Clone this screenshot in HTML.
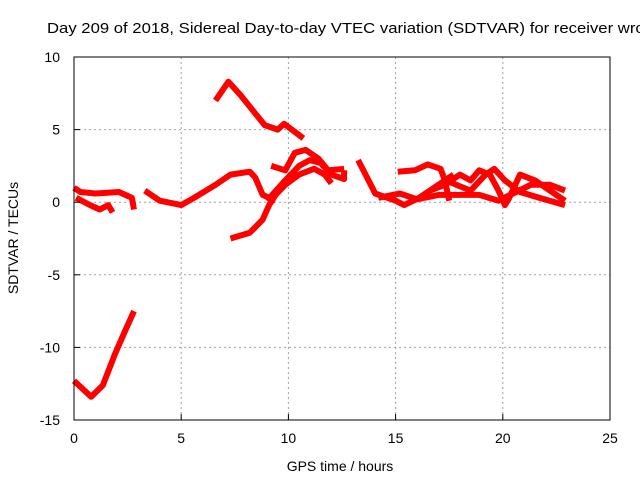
<!DOCTYPE html>
<html><head><meta charset="utf-8"><style>
body{margin:0;background:#fff;}
svg{display:block;font-family:"Liberation Sans",sans-serif;}
</style></head><body>
<svg id="chart" width="640" height="480">
<text x="47" y="33" font-size="15" textLength="606" lengthAdjust="spacingAndGlyphs">Day 209 of 2018, Sidereal Day-to-day VTEC variation (SDTVAR) for receiver wroc</text>
<g id="grid"></g>
<g id="marks"></g>
<rect x="74" y="57" width="536" height="363" fill="none" stroke="#000" stroke-width="1"/>
<g id="ticks"></g>
<text x="340" y="471" font-size="14" text-anchor="middle">GPS time / hours</text>
<text transform="translate(18,238) rotate(-90)" font-size="14" text-anchor="middle">SDTVAR / TECUs</text>
</svg>
<script>
const xTicks=[0,5,10,15,20,25];
const yTicks=[10,5,0,-5,-10,-15];
const s1=[[0,-12.3],[0.8,-13.4],[1.35,-12.6],[1.9,-10.5],[2.4,-8.8],[2.8,-7.5]];
const s2=[[6.6,7.0],[7.2,8.3],[7.75,7.4],[8.9,5.3],[9.5,5.0],[9.8,5.4],[10.7,4.4]];
const s3=[[0,1.0],[0.3,0.7],[1,0.6],[2.1,0.7],[2.7,0.3],[2.8,-0.5]];
const s3c=[[3.3,0.8],[4.0,0.1],[5,-0.2],[5.6,0.3],[6.6,1.2],[7.3,1.9],[8.2,2.1],[8.45,1.7],[8.8,0.5],[9.4,0.1]];
const s3b=[[0.1,0.3],[0.75,-0.2],[1.2,-0.5],[1.6,-0.2],[1.8,-0.7]];
const s4=[[7.3,-2.5],[8.2,-2.1],[8.8,-1.2],[9.1,-0.2],[9.4,0.5],[9.85,1.2],[10.5,1.9],[11.2,2.3],[11.7,1.9],[12,1.3]];
const s5=[[9,0.1],[9.85,1.5],[10.5,2.5],[11,2.9],[11.5,2.7],[12,1.9],[12.6,1.6],[12.6,2.2]];
const s5b=[[9.2,2.5],[9.85,2.2],[10.3,3.4],[10.8,3.6],[11.4,3.0],[11.85,2.2],[12.6,2.3]];
const s6=[[13.25,2.9],[13.6,1.9],[14.05,0.6],[15,0.1],[15.4,-0.2],[16.1,0.3],[17,1.2],[17.7,1.9]];
const s7=[[15.1,2.1],[15.9,2.2],[16.5,2.6],[17.1,2.3],[17.3,1.5],[17.5,0.1]];
const s8=[[16.6,0.8],[17.3,1.2],[18,1.9],[18.5,1.5],[18.9,2.2],[19.4,1.9],[19.8,0.8],[20.1,-0.2],[20.3,0.3],[20.8,1.9],[21.5,1.5],[22.2,0.8],[22.9,0.1]];
const s9=[[17.5,1.4],[18.5,0.8],[19.2,1.9],[19.6,2.3],[20.1,1.5],[20.8,0.7],[21.7,0.3],[22.9,-0.2]];
const s10=[[14.2,0.3],[15.2,0.6],[16,0.2],[17,0.5],[18.9,0.5],[19.8,0.1],[21.3,1.2],[22.2,1.2],[22.9,0.8]];
const series=[s1,s2,s3,s3c,s3b,s4,s5,s5b,s6,s7,s8,s9,s10];
const X0=74,X1=610,Y0=57,Y1=420;
const xs=v=>X0+(v-0)/25*(X1-X0);
const ys=v=>Y1-(v+15)/25*(Y1-Y0);
const NS="http://www.w3.org/2000/svg";
const grid=document.getElementById('grid'),ticks=document.getElementById('ticks'),marks=document.getElementById('marks');
function mk(tag,attrs,parent){const e=document.createElementNS(NS,tag);for(const k in attrs)e.setAttribute(k,attrs[k]);parent.appendChild(e);return e;}
xTicks.forEach(t=>{const x=xs(t);
 if(t>0&&t<25){const g=mk('line',{x1:x,x2:x,y1:Y0,y2:Y1,stroke:'#a0a0a0','stroke-dasharray':'2,3'},grid);
 
 }
 const tk=mk('line',{x1:x,x2:x,y1:Y1,y2:Y1-6,stroke:'#000'},ticks);
 
 
 const lb=mk('text',{x:x,y:Y1+23,'font-size':14,'text-anchor':'middle'},ticks);lb.textContent=t;
 
 
});
yTicks.forEach(t=>{const y=ys(t);
 if(t<10&&t>-15){const g=mk('line',{x1:X0,x2:X1,y1:y,y2:y,stroke:'#a0a0a0','stroke-dasharray':'2,3'},grid);
 
 }
 const tk=mk('line',{x1:X0,x2:X0+6,y1:y,y2:y,stroke:'#000'},ticks);
 
 
 const lb=mk('text',{x:X0-14,y:y+5,'font-size':14,'text-anchor':'end'},ticks);lb.textContent=t;
 
 
});
series.forEach((s,i)=>{
 const p=mk('polyline',{points:s.map(d=>xs(d[0]).toFixed(1)+','+ys(d[1]).toFixed(1)).join(' '),fill:'none',stroke:'#ff0000','stroke-width':6,'stroke-linejoin':'round'},marks);
 
 
});
</script>
</body></html>
